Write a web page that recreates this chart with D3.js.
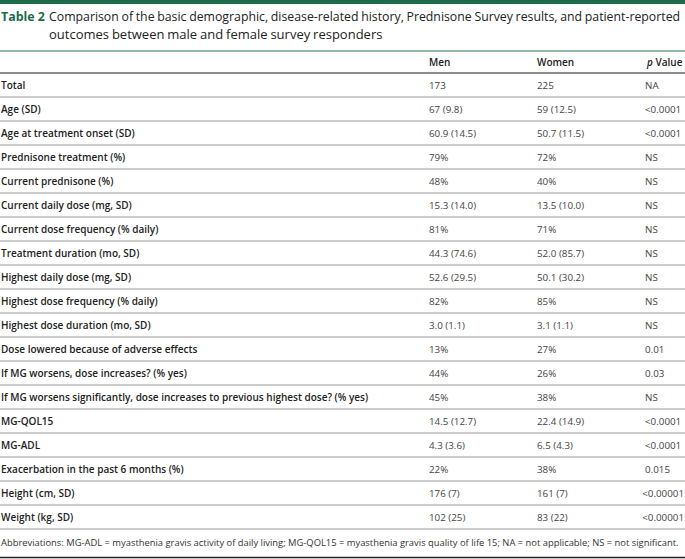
<!DOCTYPE html>
<html>
<head>
<meta charset="utf-8">
<script src="https://cdn.jsdelivr.net/npm/d3@7"></script>
<style>
  body { margin: 0; background: #fff; }
  text { font-family: "Open Sans", "Noto Sans", sans-serif; fill: #222; }
  .lbl { font-weight: 600; }
</style>
</head>
<body>
<svg id="tbl" width="685" height="559"></svg>
<script>
var columns = ["Men", "Women", "p Value"];

var rowLabels = [
  "Total", "Age (SD)", "Age at treatment onset (SD)", "Prednisone treatment (%)",
  "Current prednisone (%)", "Current daily dose (mg, SD)", "Current dose frequency (% daily)",
  "Treatment duration (mo, SD)", "Highest daily dose (mg, SD)", "Highest dose frequency (% daily)",
  "Highest dose duration (mo, SD)", "Dose lowered because of adverse effects",
  "If MG worsens, dose increases? (% yes)",
  "If MG worsens significantly, dose increases to previous highest dose? (% yes)",
  "MG-QOL15", "MG-ADL", "Exacerbation in the past 6 months (%)",
  "Height (cm, SD)", "Weight (kg, SD)"
];

var men = ["173", "67 (9.8)", "60.9 (14.5)", "79%", "48%", "15.3 (14.0)", "81%",
  "44.3 (74.6)", "52.6 (29.5)", "82%", "3.0 (1.1)", "13%", "44%", "45%",
  "14.5 (12.7)", "4.3 (3.6)", "22%", "176 (7)", "102 (25)"];

var women = ["225", "59 (12.5)", "50.7 (11.5)", "72%", "40%", "13.5 (10.0)", "71%",
  "52.0 (85.7)", "50.1 (30.2)", "85%", "3.1 (1.1)", "27%", "26%", "38%",
  "22.4 (14.9)", "6.5 (4.3)", "38%", "161 (7)", "83 (22)"];

var pValues = ["NA", "<0.0001", "<0.0001", "NS", "NS", "NS", "NS", "NS", "NS", "NS",
  "NS", "0.01", "0.03", "NS", "<0.0001", "<0.0001", "0.015", "<0.00001", "<0.00001"];

var title = "Table 2";
var caption = ["Comparison of the basic demographic, disease-related history, Prednisone Survey results, and patient-reported",
  "outcomes between male and female survey responders"];
var footnote = "Abbreviations: MG-ADL = myasthenia gravis activity of daily living; MG-QOL15 = myasthenia gravis quality of life 15; NA = not applicable; NS = not significant.";

var svg = d3.select("#tbl"),
    width = +svg.attr("width"),
    green = "#1e6b4b";

var y = d3.scaleBand()
    .domain(d3.range(rowLabels.length))
    .range([73, 529]);

var x = d3.scaleOrdinal()
    .domain(columns)
    .range([429, 537, 645]);

// shrink the font of a text until it fits a max width
function fit(sel, maxW) {
  sel.each(function() {
    var t = d3.select(this), w = this.getComputedTextLength();
    if (w > maxW) {
      var fs = parseFloat(t.attr("font-size"));
      t.attr("font-size", (fs * maxW / w).toFixed(2));
    }
  });
}

// top band
svg.append("rect").attr("x", 0).attr("y", 0).attr("width", width).attr("height", 4).attr("fill", green);

svg.append("text").attr("x", 1).attr("y", 21)
    .attr("font-size", 13).attr("font-weight", 700).style("fill", green)
    .text(title)
    .call(fit, 44);
svg.selectAll(".cap").data(caption).enter().append("text")
    .attr("class", "cap")
    .attr("x", 49).attr("y", function(d, i) { return 21 + i * 18; })
    .attr("font-size", 13)
    .attr("word-spacing", -0.5)
    .text(function(d) { return d; })
    .call(fit, 632);

svg.append("line").attr("x1", 0).attr("x2", width).attr("y1", 51).attr("y2", 51)
    .attr("stroke", "#6f9e88").attr("stroke-width", 1.5);

// header
svg.selectAll(".hdr").data(columns).enter().append("text")
    .attr("class", "hdr lbl")
    .attr("x", function(d) { return x(d) + (d === "p Value" ? 2 : 0); })
    .attr("y", 66)
    .attr("font-size", 10)
    .each(function(d) {
      var t = d3.select(this);
      if (d === "p Value") {
        t.append("tspan").attr("font-style", "italic").text("p");
        t.append("tspan").text(" Value");
      } else t.text(d);
    });

svg.append("line").attr("x1", 0).attr("x2", width).attr("y1", 73).attr("y2", 73)
    .attr("stroke", "#666").attr("stroke-width", 1.3);

var rows = svg.selectAll(".row").data(rowLabels).enter().append("g")
    .attr("class", "row")
    .attr("transform", function(d, i) { return "translate(0," + y(i) + ")"; });

rows.append("text").attr("class", "lbl")
    .attr("x", 1).attr("y", y.bandwidth() / 2 + 3.5)
    .attr("font-size", 10)
    .text(function(d) { return d; });

var cols = [men, women, pValues];
cols.forEach(function(arr, c) {
  rows.append("text")
      .attr("x", x(columns[c]))
      .attr("y", y.bandwidth() / 2 + 3.5)
      .attr("font-size", 9.8)
      .style("fill", "#444")
      .text(function(d, i) { return arr[i]; })
      .each(function() {
        // keep the last column inside the page
        var w = this.getComputedTextLength(), x0 = +d3.select(this).attr("x");
        if (x0 + w > width - 1) d3.select(this).attr("x", width - 1 - w);
      });
});

rows.append("line")
    .attr("x1", 0).attr("x2", width)
    .attr("y1", y.bandwidth()).attr("y2", y.bandwidth())
    .attr("stroke", "#999").attr("stroke-width", 1);

svg.append("text").attr("x", 1).attr("y", 546)
    .attr("font-size", 9.4).style("fill", "#333")
    .text(footnote)
    .call(fit, 683);

svg.append("line").attr("x1", 0).attr("x2", width).attr("y1", 557.5).attr("y2", 557.5)
    .attr("stroke", "#222").attr("stroke-width", 1.5);
</script>
</body>
</html>
